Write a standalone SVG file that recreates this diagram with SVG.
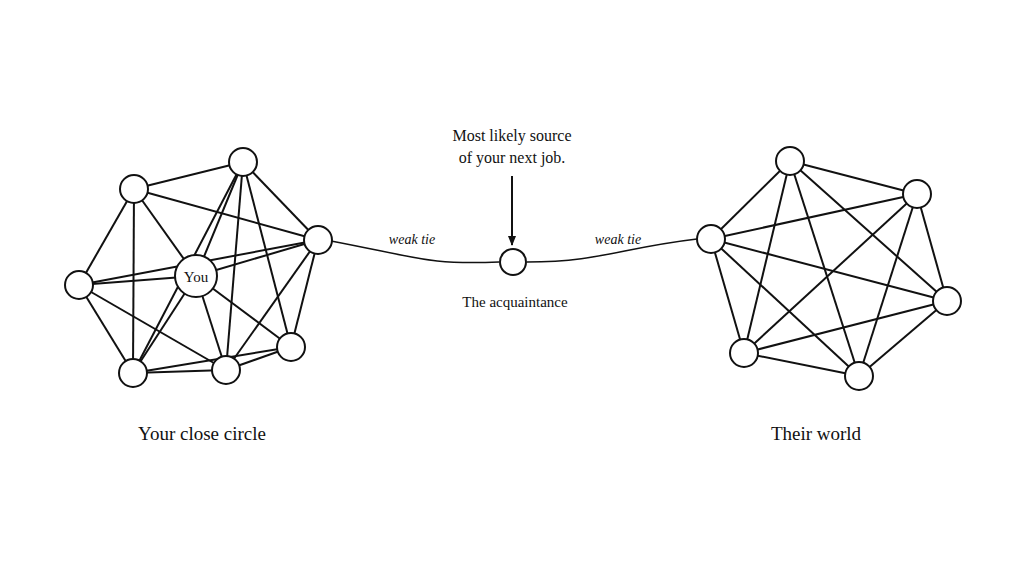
<svg xmlns="http://www.w3.org/2000/svg" width="1024" height="576" viewBox="0 0 1024 576">
<style>
.e line{stroke:#111;stroke-width:2}
.n{fill:#fff;stroke:#111;stroke-width:2}
text{font-family:"Liberation Serif",serif;fill:#111}
</style>
<defs><marker id="ar" viewBox="0 0 10 10" refX="9" refY="5" markerWidth="6" markerHeight="5" orient="auto"><path d="M0,1 L10,5 L0,9 z" fill="#111"/></marker></defs>
<rect width="1024" height="576" fill="#fff"/>
<g id="connectors" class="e">
<line x1="134" y1="189" x2="243" y2="162"/><line x1="134" y1="189" x2="79" y2="285"/><line x1="134" y1="189" x2="133" y2="373"/><line x1="134" y1="189" x2="196" y2="276"/><line x1="134" y1="189" x2="318" y2="240"/>
<line x1="243" y1="162" x2="318" y2="240"/><line x1="243" y1="162" x2="133" y2="373" stroke-width="1.3"/><line x1="243" y1="162" x2="196" y2="276"/><line x1="243" y1="162" x2="226" y2="370"/><line x1="243" y1="162" x2="291" y2="347"/>
<line x1="318" y1="240" x2="196" y2="276"/><line x1="318" y1="240" x2="291" y2="347"/><line x1="318" y1="240" x2="226" y2="370"/>
<line x1="79" y1="285" x2="318" y2="240" stroke-width="1.5"/><line x1="79" y1="285" x2="196" y2="276"/><line x1="79" y1="285" x2="133" y2="373"/><line x1="79" y1="285" x2="226" y2="370"/>
<line x1="196" y1="276" x2="133" y2="373"/><line x1="196" y1="276" x2="226" y2="370"/><line x1="196" y1="276" x2="291" y2="347"/>
<line x1="133" y1="373" x2="226" y2="370"/><line x1="133" y1="373" x2="291" y2="347" stroke-width="1.5"/><line x1="226" y1="370" x2="291" y2="347"/>
<path d="M331,241 C420,258 430,265 499,262" fill="none" stroke="#111" stroke-width="1.5"/>
<path d="M527,262 C600,262 620,248 697,239" fill="none" stroke="#111" stroke-width="1.5"/>
<line x1="512" y1="176" x2="512" y2="245" stroke="#111" stroke-width="1.2" marker-end="url(#ar)"/>
<line x1="790" y1="161" x2="917" y2="194"/><line x1="790" y1="161" x2="711" y2="239"/><line x1="790" y1="161" x2="947" y2="301"/><line x1="790" y1="161" x2="744" y2="353"/><line x1="790" y1="161" x2="859" y2="376"/>
<line x1="917" y1="194" x2="711" y2="239"/><line x1="917" y1="194" x2="947" y2="301"/><line x1="917" y1="194" x2="744" y2="353"/><line x1="917" y1="194" x2="859" y2="376"/>
<line x1="711" y1="239" x2="947" y2="301"/><line x1="711" y1="239" x2="744" y2="353"/><line x1="711" y1="239" x2="859" y2="376"/>
<line x1="947" y1="301" x2="744" y2="353"/><line x1="947" y1="301" x2="859" y2="376"/><line x1="744" y1="353" x2="859" y2="376"/>
</g>
<g id="l1"><circle class="n" cx="134" cy="189" r="14"/></g>
<g id="l2"><circle class="n" cx="243" cy="162" r="14"/></g>
<g id="l3"><circle class="n" cx="318" cy="240" r="14"/></g>
<g id="l4"><circle class="n" cx="79" cy="285" r="14"/></g>
<g id="you"><circle class="n" cx="196" cy="276" r="21"/><text x="196" y="282" font-size="15" text-anchor="middle">You</text></g>
<g id="l5"><circle class="n" cx="291" cy="347" r="14"/></g>
<g id="l6"><circle class="n" cx="133" cy="373" r="14"/></g>
<g id="l7"><circle class="n" cx="226" cy="370" r="14"/></g>
<g id="acq"><circle class="n" cx="513" cy="262" r="13"/><text x="515" y="307" font-size="15" text-anchor="middle">The acquaintance</text></g>
<g id="r1"><circle class="n" cx="790" cy="161" r="14"/></g>
<g id="r2"><circle class="n" cx="917" cy="194" r="14"/></g>
<g id="r3"><circle class="n" cx="711" cy="239" r="14"/></g>
<g id="r4"><circle class="n" cx="947" cy="301" r="14"/></g>
<g id="r5"><circle class="n" cx="744" cy="353" r="14"/></g>
<g id="r6"><circle class="n" cx="859" cy="376" r="14"/></g>
<g id="labels">
<text x="512" y="141" font-size="16" text-anchor="middle">Most likely source</text>
<text x="512" y="163" font-size="16" text-anchor="middle">of your next job.</text>
<text x="412" y="244" font-size="14" font-style="italic" text-anchor="middle">weak tie</text>
<text x="618" y="244" font-size="14" font-style="italic" text-anchor="middle">weak tie</text>
<text x="202" y="440" font-size="19" text-anchor="middle">Your close circle</text>
<text x="816" y="440" font-size="19" text-anchor="middle">Their world</text>
</g>
</svg>
